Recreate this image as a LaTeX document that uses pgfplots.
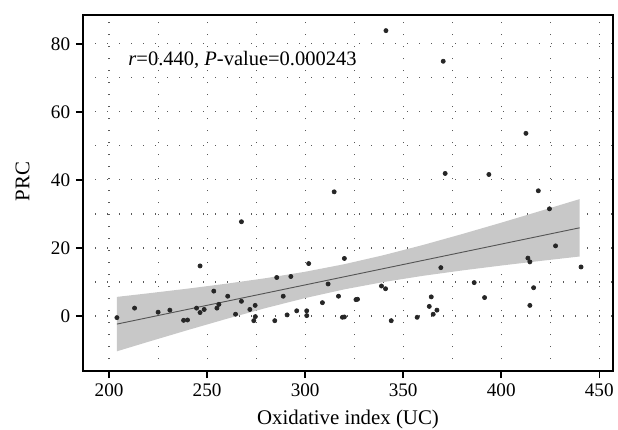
\documentclass[border=0pt]{standalone}
\usepackage{fontspec}
\setmainfont{Liberation Serif}
\usepackage{pgfplots}
\pgfplotsset{compat=1.18}
\definecolor{bandgray}{RGB}{200,200,200}
\definecolor{linegray}{RGB}{85,85,85}
\begin{document}
\begin{tikzpicture}
\begin{axis}[
  name=ax,
  scale only axis,
  width=318pt, height=213.6pt,
  xmin=186.7, xmax=457, ymin=-16.2, ymax=88.5,
  xtick={200,250,...,450}, ytick={0,20,...,80},
  minor x tick num=1, minor y tick num=1,
  grid=both,
  major grid style={black!65, line width=0.7pt, dash pattern=on 0.7pt off 6.5pt},
  minor grid style={black!65, line width=0.7pt, dash pattern=on 0.7pt off 6.5pt},
  tick align=outside, major tick length=4.2pt, minor tick length=0pt,
  tick style={black, line width=0.9pt},
  axis line style={line width=0.9pt},
  xtick pos=bottom, ytick pos=left,
  /pgf/number format/assume math mode=true,
  ticklabel style={font=\fontsize{11.5}{13}\selectfont},
  label style={font=\fontsize{12.5}{14}\selectfont},
  xlabel={Oxidative index (UC)}, ylabel={PRC},
  xlabel style={yshift=-1pt},
  ylabel style={xshift=7pt, yshift=6pt},
]
% confidence band
\addplot[fill=bandgray, draw=none, forget plot] coordinates {
 (204,5.60) (220,6.65) (240,8.02) (260,9.49) (280,11.11) (300,12.99) (320,15.22)
 (340,17.87) (360,20.85) (380,24.07) (400,27.42) (420,30.87) (440,34.36)
 (440,17.48) (420,16.17) (400,14.82) (380,13.37) (360,11.79) (340,9.97) (320,7.82)
 (300,5.25) (280,2.33) (260,-0.85) (240,-4.18) (220,-7.61) (204,-10.40)
} -- cycle;
% regression line
\addplot[linegray, line width=0.55pt, no marks] coordinates {(204,-2.4) (440,25.92)};
% data points
\addplot[only marks, mark=*, mark size=1.25pt, black!85] coordinates {
 (204,-0.5) (213,2.3) (225,1.1) (231,1.7) (238,-1.3) (240,-1.2) (244.6,2.3)
 (246.4,1.0) (248.5,1.9) (246.4,14.7) (253.4,7.3) (255,2.3) (256,3.4) (260.5,5.8)
 (264.5,0.5) (267.5,4.3) (267.5,27.7) (271.8,1.9) (273.8,-1.4) (274.5,3.1)
 (274.6,-0.2) (284.5,-1.4) (285.5,11.3) (288.8,5.8) (290.8,0.3) (292.7,11.6)
 (295.7,1.5) (300.8,1.5) (300.8,0.1) (301.8,15.4) (308.8,3.9) (311.7,9.4)
 (314.8,36.5) (317,5.8) (319,-0.4) (320,-0.3) (320,16.9) (325.9,4.8) (326.7,4.9)
 (338.9,8.8) (341,8.0) (343.9,-1.4) (357.1,-0.4) (363.3,2.8) (364.3,5.6)
 (365.3,0.5) (367.2,1.7) (369.2,14.2) (386.2,9.8) (391.5,5.4) (413.6,17.0)
 (414.6,15.9) (414.6,3.1) (416.5,8.3) (418.9,36.8) (424.6,31.5) (427.7,20.6)
 (440.7,14.4) (341.2,83.9) (370.4,74.9) (412.6,53.7) (371.4,41.9) (393.7,41.6)
};
\node[anchor=west, font=\fontsize{12.3}{14}\selectfont, inner sep=0pt] at (axis cs:209.7,75.2)
  {\textit{r}=0.440, \textit{P}-value=0.000243};
\end{axis}
\pgfresetboundingbox
\path ([shift={(-49.8pt,-34.8pt)}]ax.south west) rectangle ([shift={(3pt,9pt)}]ax.north east);
\end{tikzpicture}
\end{document}
